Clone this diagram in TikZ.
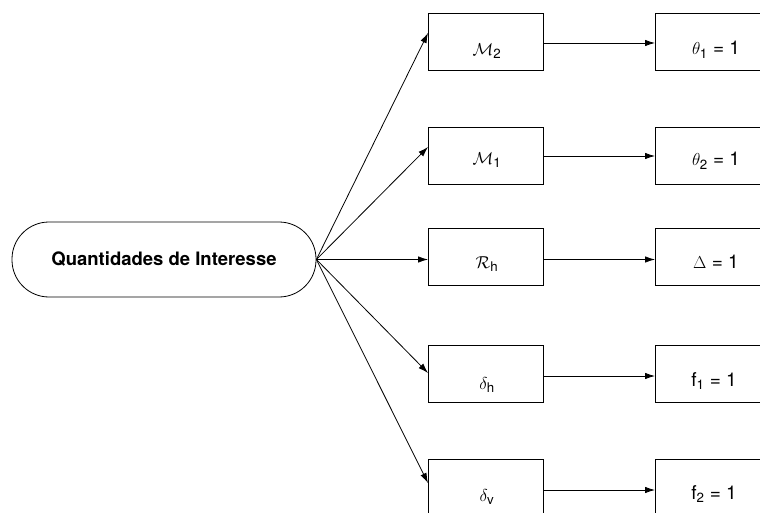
\documentclass[tikz,border=0pt]{standalone}
\usepackage{amsmath}
\usepackage{fontspec}
\setmainfont{TeX Gyre Heros}
\usetikzlibrary{arrows.meta,calc}
\begin{document}
\begin{tikzpicture}[x=1pt,y=-1pt,
  box/.style={draw, line width=0.8pt, minimum width=115pt, minimum height=57pt, inner sep=0pt, anchor=north west},
  term/.style={draw, line width=0.8pt, rounded corners=37pt, minimum width=304pt, minimum height=75pt, inner sep=0pt, font=\fontsize{18.5}{20}\selectfont\bfseries},
  lbl/.style={font=\fontsize{19}{21}\selectfont, inner sep=0pt},
  arr/.style={line width=0.8pt, -{Latex[length=10pt,width=6.5pt]}}]
\useasboundingbox (0,0) rectangle (760,513);
\clip (0,0) rectangle (760,513);

\node[term] (q) at (164,259.5) {Quantidades de Interesse};

% left column
\node[box] (a1) at (428,13) {};
\node[box] (a2) at (428,127) {};
\node[box] (a3) at (428,228) {};
\node[box] (a4) at (428,345) {};
\node[box] (a5) at (428,459) {};
% right column
\node[box] (b1) at (655,13) {};
\node[box] (b2) at (655,127) {};
\node[box] (b3) at (655,228) {};
\node[box] (b4) at (655,345) {};
\node[box] (b5) at (655,459) {};

% labels
\node[lbl] (la1) at (487,51) {$\mathcal{M}_{\text{2}}$};
\node[lbl] (la2) at (487,160) {$\mathcal{M}_{\text{1}}$};
\node[lbl] (la3) at (487,264) {$\mathcal{R}_{\text{h}}$};
\node[lbl] (la4) at (487,385) {$\delta_{\text{h}}$};
\node[lbl] (la5) at (487,497) {$\delta_{\text{v}}$};
\node[lbl] (lb1) at (716,50) {$\theta_{\text{1}}$ = 1};
\node[lbl] (lb2) at (716,161) {$\theta_{\text{2}}$ = 1};
\node[lbl] (lb3) at (716,262) {$\Delta$ = 1};
\node[lbl] (lb4) at (714,381) {f$_{\text{1}}$ = 1};
\node[lbl] (lb5) at (714,494) {f$_{\text{2}}$ = 1};

% fan arrows
\draw[arr] (q.east) -- ($(a1.north west)+(0,20)$);
\draw[arr] (q.east) -- ($(a2.north west)+(0,20)$);
\draw[arr] (q.east) -- (a3.west |- q.east);
\draw[arr] (q.east) -- ($(a4.north west)+(0,28)$);
\draw[arr] (q.east) -- ($(a5.north west)+(0,24)$);

% horizontal arrows
\draw[arr] ($(a1.north east)+(0,30)$) -- ($(b1.north west)+(0,30)$);
\draw[arr] ($(a2.north east)+(0,29)$) -- ($(b2.north west)+(0,29)$);
\draw[arr] (a3.east |- q.east) -- (b3.west |- q.east);
\draw[arr] ($(a4.north east)+(0,31)$) -- ($(b4.north west)+(0,31)$);
\draw[arr] ($(a5.north east)+(0,31)$) -- ($(b5.north west)+(0,31)$);
\end{tikzpicture}
\end{document}
